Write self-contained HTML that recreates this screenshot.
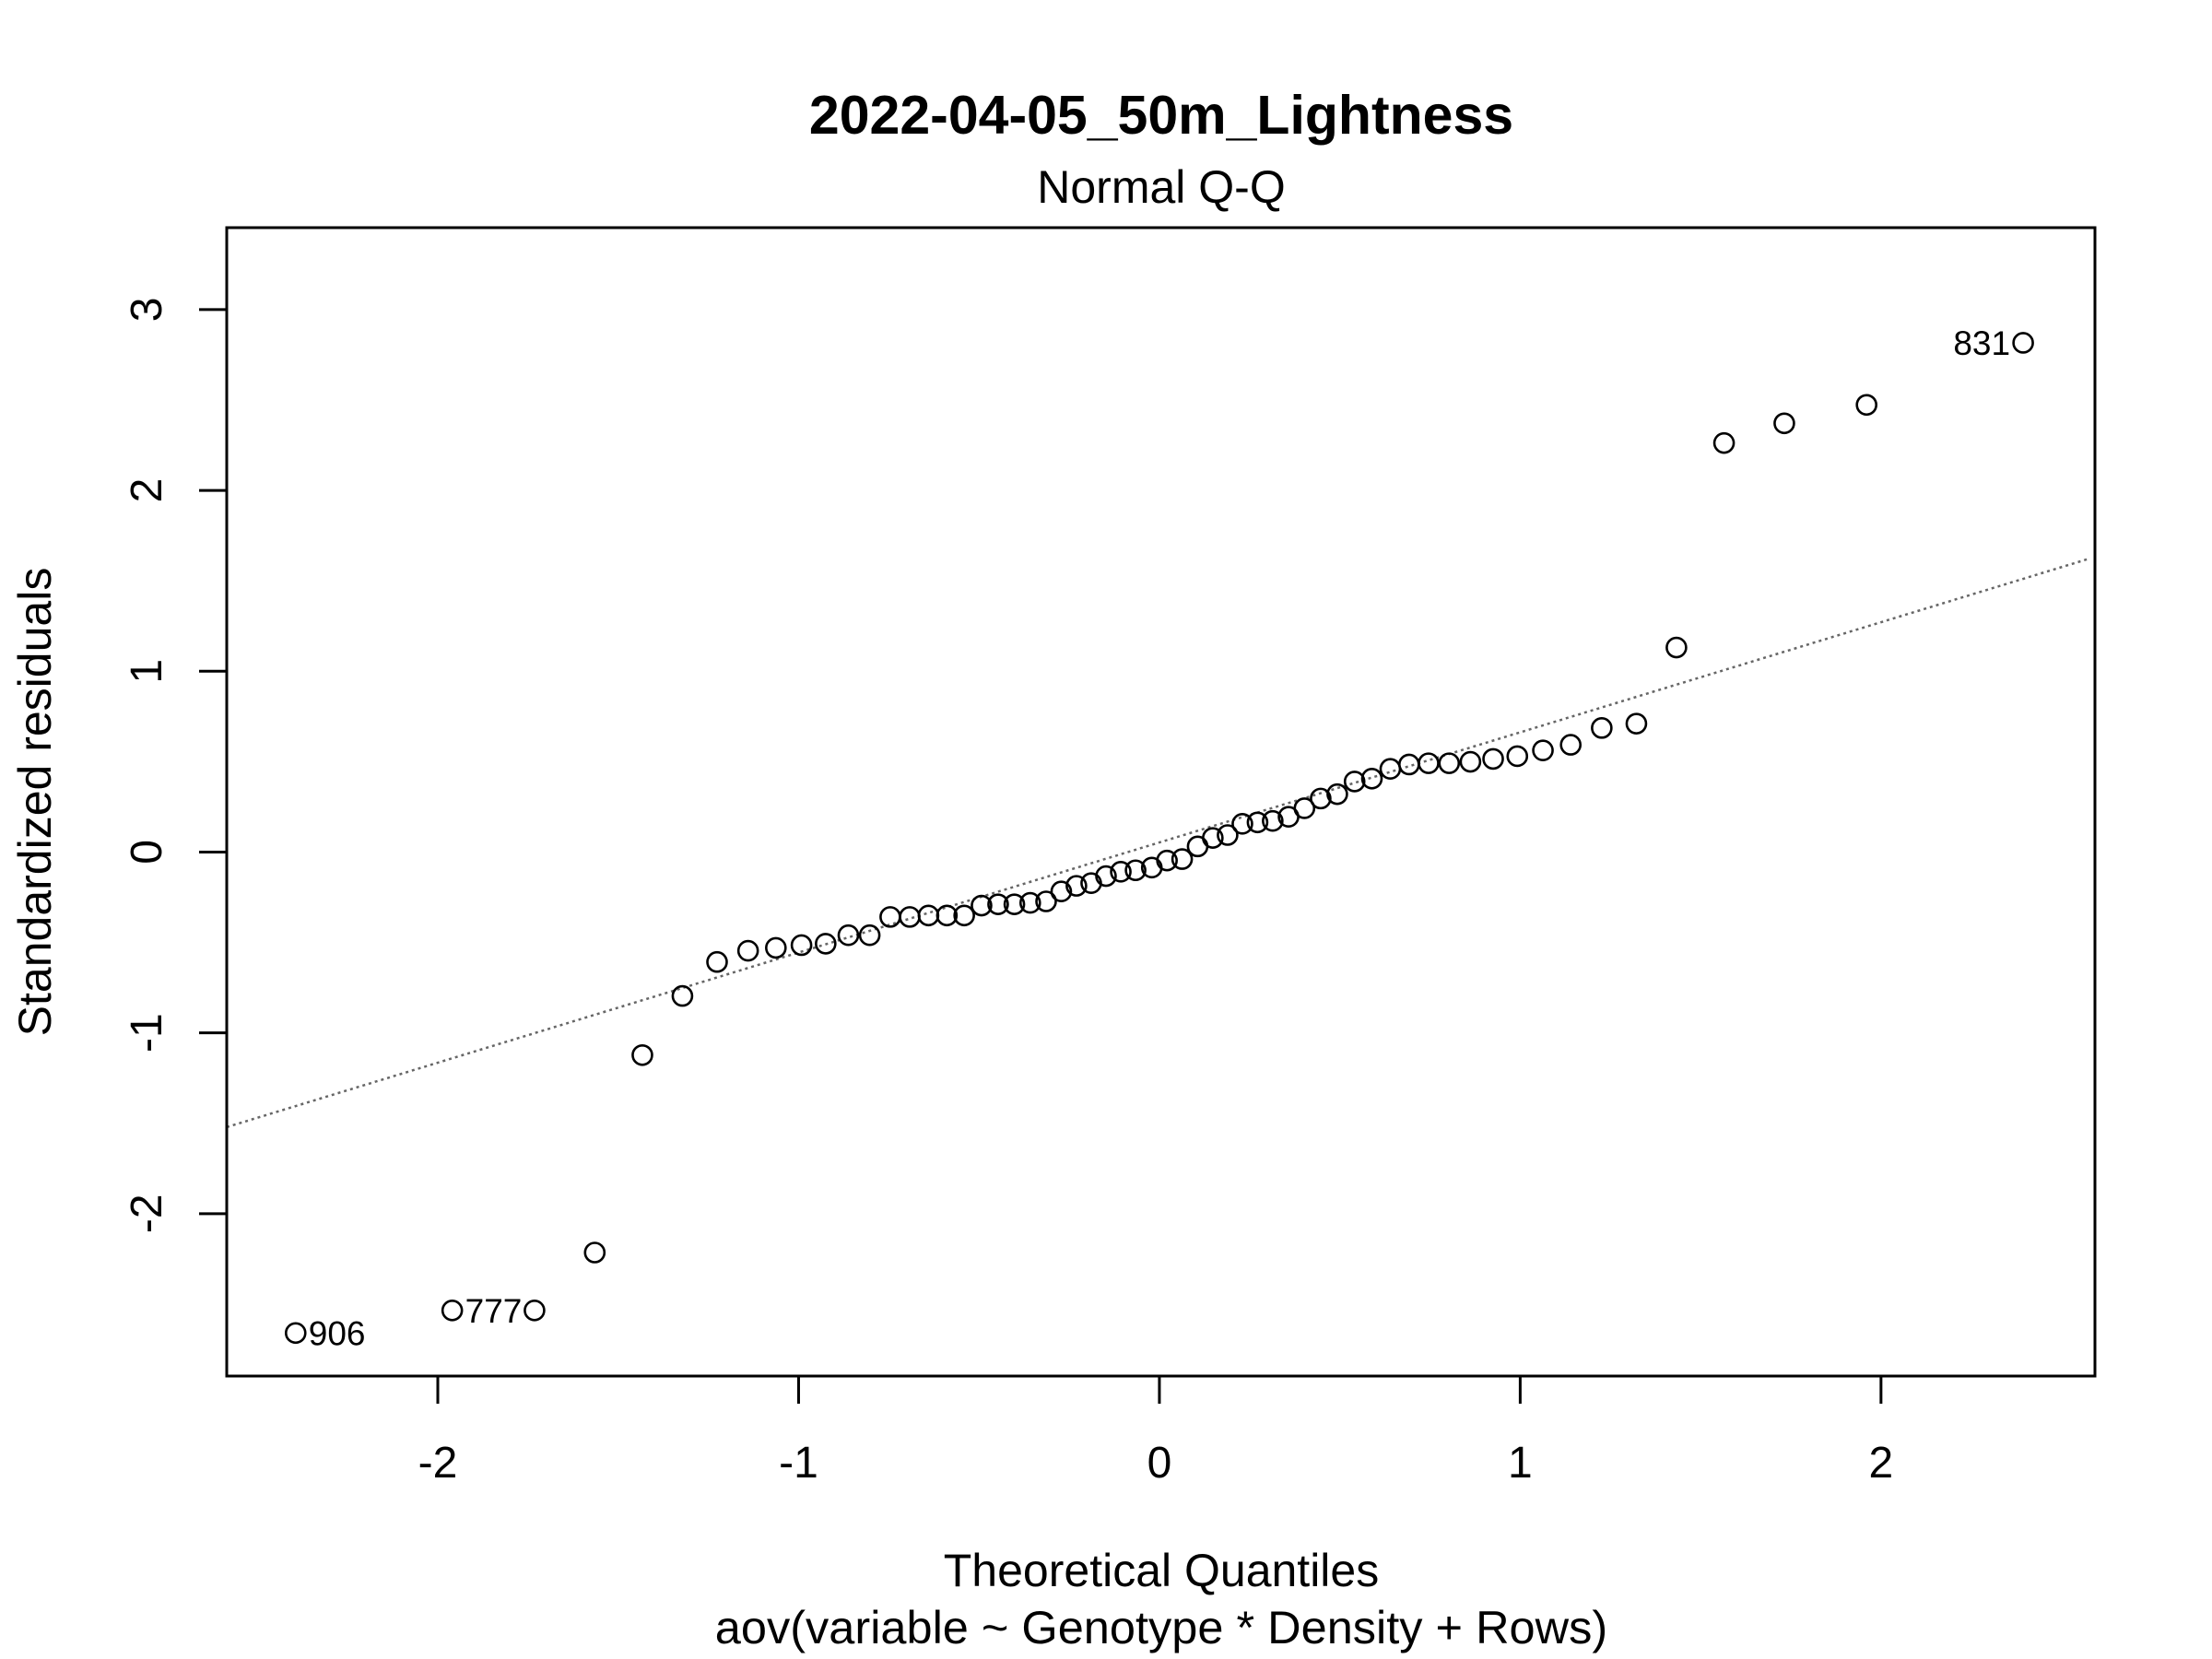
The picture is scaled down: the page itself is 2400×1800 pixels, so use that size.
<!DOCTYPE html>
<html><head><meta charset="utf-8"><style>
html,body{margin:0;padding:0;background:#fff}
svg{display:block;font-family:"Liberation Sans",Arial,sans-serif}
</style></head><body>
<svg id="chart" width="2400" height="1800" viewBox="0 0 2400 1800" xmlns="http://www.w3.org/2000/svg">
<rect width="2400" height="1800" fill="#fff"/>
<text x="1260" y="145" font-size="59" font-weight="bold" text-anchor="middle">2022-04-05_50m_Lightness</text>
<text x="1260" y="220" font-size="50" text-anchor="middle">Normal Q-Q</text>
<text x="1260" y="1721" font-size="50" text-anchor="middle">Theoretical Quantiles</text>
<text x="1260" y="1783" font-size="50.5" text-anchor="middle">aov(variable ~ Genotype * Density + Rows)</text>
<text x="0" y="0" font-size="50" text-anchor="middle" transform="translate(55,870) rotate(-90)">Standardized residuals</text>
<g id="ticks"></g>
<g id="refline"></g>
<g id="points"></g>
<rect x="246" y="247" width="2027" height="1246" fill="none" stroke="#000" stroke-width="3"/>
</svg>
<script>
const xTicks = [-2, -1, 0, 1, 2];
const yTicks = [-2, -1, 0, 1, 2, 3];
const theoretical = [-2.394,-1.960,-1.732,-1.565,-1.433,-1.322,-1.226,-1.140,-1.063,-0.992,-0.925,-0.862,-0.803,-0.746,-0.692,-0.640,-0.589,-0.541,-0.493,-0.447,-0.402,-0.358,-0.314,-0.272,-0.230,-0.189,-0.148,-0.107,-0.066,-0.021,0.021,0.063,0.106,0.148,0.189,0.230,0.272,0.314,0.358,0.402,0.447,0.493,0.541,0.589,0.640,0.692,0.746,0.803,0.862,0.925,0.992,1.063,1.140,1.226,1.322,1.433,1.565,1.732,1.960,2.394];
const residuals = [-2.660,-2.535,-2.535,-2.215,-1.123,-0.796,-0.608,-0.546,-0.530,-0.515,-0.507,-0.460,-0.460,-0.359,-0.359,-0.351,-0.351,-0.351,-0.296,-0.289,-0.289,-0.281,-0.273,-0.218,-0.187,-0.172,-0.133,-0.109,-0.101,-0.086,-0.047,-0.039,0.031,0.078,0.094,0.156,0.164,0.172,0.195,0.242,0.296,0.320,0.390,0.406,0.460,0.484,0.491,0.491,0.499,0.515,0.530,0.562,0.593,0.686,0.710,1.131,2.262,2.371,2.473,2.816];
const pointLabels = ["906","777",null,null,null,null,null,null,null,null,null,null,null,null,null,null,null,null,null,null,null,null,null,null,null,null,null,null,null,null,null,null,null,null,null,null,null,null,null,null,null,null,null,null,null,null,null,null,null,null,null,null,null,null,null,null,null,null,null,"831"];
const refSlope = 0.609;
const refIntercept = 0.053;

const X0 = 246, X1 = 2273, Y0 = 247, Y1 = 1493;
const xMin = -2.585, xMax = 2.593, yMin = -2.898, yMax = 3.453;
function sx(v){ return X0 + (v - xMin) / (xMax - xMin) * (X1 - X0); }
function sy(v){ return Y1 - (v - yMin) / (yMax - yMin) * (Y1 - Y0); }
const NS = "http://www.w3.org/2000/svg";
function mk(tag, attrs, parent){
  const e = document.createElementNS(NS, tag);
  for (const k in attrs) e.setAttribute(k, attrs[k]);
  parent.appendChild(e);
  return e;
}
const tg = document.getElementById('ticks');
xTicks.forEach(t => {
  const l = mk('line', {x1:sx(t), x2:sx(t), y1:Y1, y2:Y1+30, stroke:'#000','stroke-width':3}, tg);
  
  
  const tx = mk('text', {x:sx(t), y:1603, 'font-size':48, 'text-anchor':'middle'}, tg);
  tx.textContent = String(t);
  
  
});
yTicks.forEach(t => {
  const l = mk('line', {x1:X0-30, x2:X0, y1:sy(t), y2:sy(t), stroke:'#000','stroke-width':3}, tg);
  
  
  const tx = mk('text', {x:0, y:0, 'font-size':48, 'text-anchor':'middle', transform:'translate(175,'+sy(t)+') rotate(-90)'}, tg);
  tx.textContent = String(t);
  
  
});
const rg = document.getElementById('refline');
const ref = mk('line', {x1:sx(xMin), y1:sy(refIntercept + refSlope*xMin), x2:sx(xMax-0.015), y2:sy(refIntercept + refSlope*(xMax-0.015)), stroke:'#666','stroke-width':2.5,'stroke-dasharray':'3,4'}, rg);


const pg = document.getElementById('points');
theoretical.forEach((q, i) => {
  const c = mk('circle', {cx:sx(q), cy:sy(residuals[i]), r:10.5, fill:'none', stroke:'#000','stroke-width':2.6}, pg);
  
  
  const lab = pointLabels[i];
  if (lab) {
    const right = q < 0;
    const t = mk('text', {x: sx(q) + (right ? 14 : -14), y: sy(residuals[i]) + 13, 'font-size':37, 'text-anchor': right ? 'start' : 'end'}, pg);
    t.textContent = lab;
    
    
  }
});
</script>
</body></html>
